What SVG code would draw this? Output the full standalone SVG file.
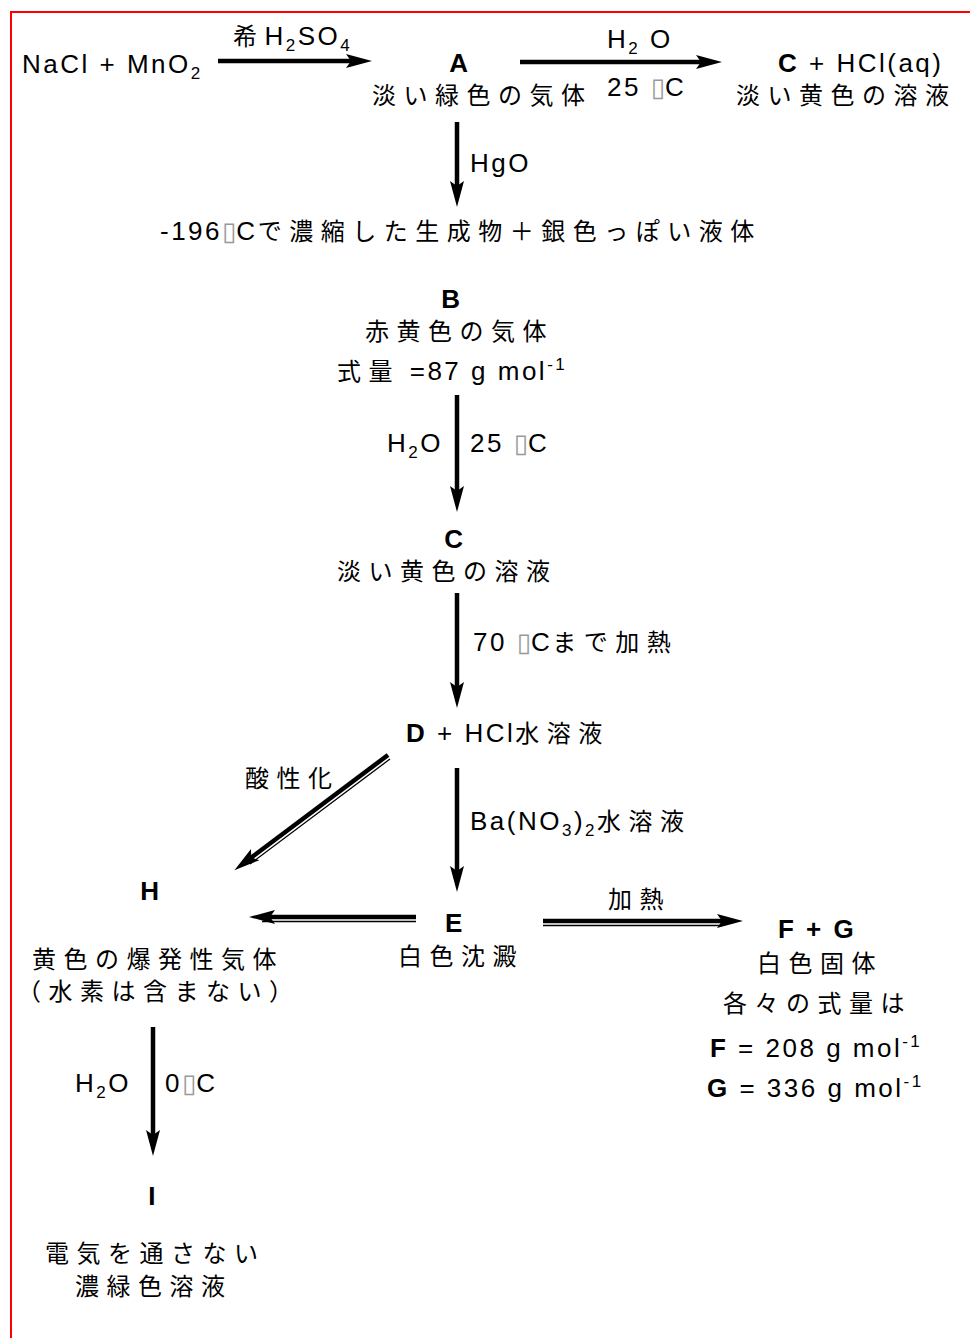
<svg xmlns="http://www.w3.org/2000/svg" width="970" height="1338" viewBox="0 0 970 1338">
<style>
.t{font-family:"Liberation Sans","Noto Sans CJK JP",sans-serif;font-size:26px;letter-spacing:2.5px;fill:#000}
.b{font-weight:bold}
.j{font-family:"Noto Sans CJK JP",sans-serif;font-size:24px;letter-spacing:7.5px;fill:#000}
.s{font-size:17px}
.deg{font-family:"DejaVu Sans",sans-serif;font-size:26px;fill:#999;letter-spacing:0}
.thick{stroke:#000;stroke-width:4.5;fill:none}
.thin{stroke:#000;stroke-width:1.3;fill:none}
</style>
<defs>
<marker id="ah" viewBox="-27 -8 28 16" refX="-17" refY="0" markerWidth="28" markerHeight="16" orient="auto" markerUnits="userSpaceOnUse">
<path d="M0,0 L-26,-7 L-21,0 L-26,7 Z" fill="#000"/>
</marker>
</defs>
<rect x="11" y="12" width="1000" height="1400" fill="none" stroke="#f00" stroke-width="2"/>

<g id="connectors">
<line class="thick" x1="218" y1="61" x2="355" y2="61" marker-end="url(#ah)"/>
<line class="thick" x1="520" y1="62" x2="705" y2="62" marker-end="url(#ah)"/>
<line class="thick" x1="457" y1="122" x2="457" y2="190" marker-end="url(#ah)"/>
<line class="thick" x1="457" y1="395" x2="457" y2="495" marker-end="url(#ah)"/>
<line class="thick" x1="457" y1="593" x2="457" y2="691" marker-end="url(#ah)"/>
<line class="thick" x1="388" y1="755" x2="248" y2="860" marker-end="url(#ah)"/>
<line class="thin" x1="390" y1="759" x2="250" y2="864"/>
<line class="thick" x1="457" y1="768" x2="457" y2="875" marker-end="url(#ah)"/>
<line class="thick" x1="416" y1="917" x2="266" y2="917" marker-end="url(#ah)"/>
<line class="thin" x1="416" y1="921.5" x2="262" y2="921.5"/>
<line class="thick" x1="543" y1="921" x2="726" y2="921" marker-end="url(#ah)"/>
<line class="thin" x1="543" y1="925.5" x2="722" y2="925.5"/>
<line class="thick" x1="153" y1="1027" x2="153" y2="1139" marker-end="url(#ah)"/>
</g>

<g id="n-start">
<text class="t" x="22" y="73">NaCl + MnO<tspan class="s" dy="6">2</tspan></text>
<text class="t" x="233" y="45"><tspan class="j" letter-spacing="2">希</tspan>H<tspan class="s" dy="6">2</tspan><tspan dy="-6">SO</tspan><tspan class="s" dy="6">4</tspan></text>
</g>

<g id="n-A">
<text class="t b" x="460" y="72" text-anchor="middle">A</text>
<text class="j" x="372" y="104">淡い緑色の気体</text>
</g>

<g id="lbl-A-C">
<text class="t" x="607" y="48">H<tspan class="s" dy="6">2</tspan><tspan dy="-6"> O</tspan></text>
<text class="t" x="607" y="96">25 <tspan class="deg">▯</tspan>C</text>
</g>

<g id="n-C-top">
<text class="t" x="778" y="72"><tspan class="b">C</tspan> + HCl(aq)</text>
<text class="j" x="736" y="104">淡い黄色の溶液</text>
</g>

<g id="lbl-HgO">
<text class="t" x="470" y="172">HgO</text>
</g>

<g id="n-product">
<text class="t" x="160" y="240">-196<tspan class="deg">▯</tspan>C<tspan class="j">で濃縮した生成物＋銀色っぽい液体</tspan></text>
</g>

<g id="n-B">
<text class="t b" x="452" y="308" text-anchor="middle">B</text>
<text class="j" x="365" y="340">赤黄色の気体</text>
<text class="t" x="337" y="380"><tspan class="j">式量</tspan> =87 g mol<tspan class="s" dy="-10">-1</tspan></text>
</g>

<g id="lbl-B-C">
<text class="t" x="387" y="452">H<tspan class="s" dy="6">2</tspan><tspan dy="-6">O</tspan></text>
<text class="t" x="470" y="452">25 <tspan class="deg">▯</tspan>C</text>
</g>

<g id="n-C">
<text class="t b" x="455" y="548" text-anchor="middle">C</text>
<text class="j" x="337" y="580">淡い黄色の溶液</text>
</g>

<g id="lbl-C-D">
<text class="t" x="473" y="651">70 <tspan class="deg">▯</tspan>C<tspan class="j">まで加熱</tspan></text>
</g>

<g id="n-D">
<text class="t" x="406" y="742"><tspan class="b">D</tspan> + HCl<tspan class="j">水溶液</tspan></text>
</g>

<g id="lbl-D-H">
<text class="j" x="245" y="787">酸性化</text>
</g>

<g id="lbl-D-E">
<text class="t" x="470" y="830">Ba(NO<tspan class="s" dy="6">3</tspan><tspan dy="-6">)</tspan><tspan class="s" dy="6">2</tspan><tspan class="j" dy="-6">水溶液</tspan></text>
</g>

<g id="n-H">
<text class="t b" x="151" y="900" text-anchor="middle">H</text>
<text class="j" x="32" y="968">黄色の爆発性気体</text>
<text class="j" x="17" y="1000" letter-spacing="4">（水素は含まない）</text>
</g>

<g id="n-E">
<text class="t b" x="455" y="932" text-anchor="middle">E</text>
<text class="j" x="398" y="965">白色沈澱</text>
</g>

<g id="lbl-E-FG">
<text class="j" x="608" y="908">加熱</text>
</g>

<g id="n-FG">
<text class="t b" x="778" y="938">F + G</text>
<text class="j" x="757" y="972">白色固体</text>
<text class="j" x="723" y="1012">各々の式量は</text>
<text class="t" x="710" y="1057"><tspan class="b">F</tspan> = 208 g mol<tspan class="s" dy="-10">-1</tspan></text>
<text class="t" x="707" y="1097"><tspan class="b">G</tspan> = 336 g mol<tspan class="s" dy="-10">-1</tspan></text>
</g>

<g id="lbl-H-I">
<text class="t" x="75" y="1092">H<tspan class="s" dy="6">2</tspan><tspan dy="-6">O</tspan></text>
<text class="t" x="165" y="1092">0<tspan class="deg">▯</tspan>C</text>
</g>

<g id="n-I">
<text class="t b" x="153" y="1205" text-anchor="middle">I</text>
<text class="j" x="45" y="1262">電気を通さない</text>
<text class="j" x="75" y="1295">濃緑色溶液</text>
</g>
</svg>
